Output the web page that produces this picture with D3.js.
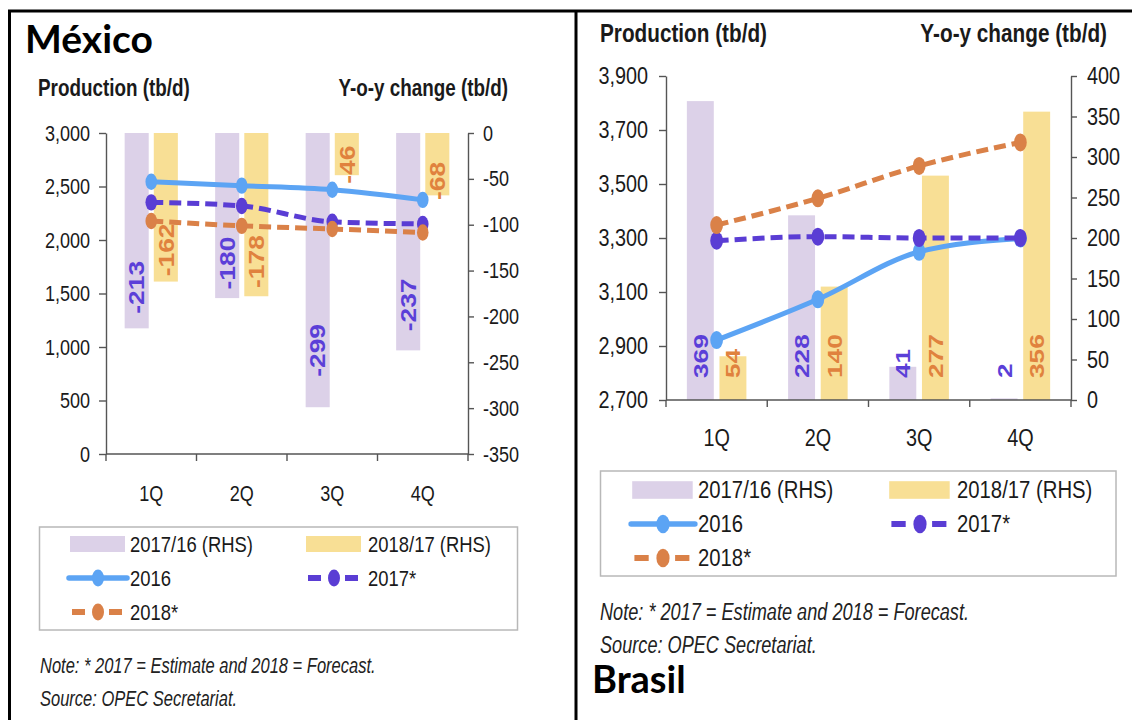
<!DOCTYPE html>
<html>
<head>
<meta charset="utf-8">
<script src="https://cdn.jsdelivr.net/npm/d3@7"></script>
<style>
  body { margin: 0; background: #fff; }
</style>
</head>
<body>
<script>
// Shared categories and legend labels
var quarters = ["1Q", "2Q", "3Q", "4Q"];
var legendLabels = ["2017/16 (RHS)", "2018/17 (RHS)", "2016", "2017*", "2018*"];

// México: y-o-y change (RHS, tb/d) and production (LHS, tb/d)
var mxChange1716 = [-213, -180, -299, -237];
var mxChange1817 = [-162, -178, -46, -68];
var mxProd2016 = [2545, 2508, 2470, 2375];
var mxProd2017 = [2352, 2318, 2170, 2150];
var mxProd2018 = [2178, 2132, 2103, 2070];
var mxLeftTicks = [0, 500, 1000, 1500, 2000, 2500, 3000];
var mxRightTicks = [0, -50, -100, -150, -200, -250, -300, -350];

// Brasil
var brChange1716 = [369, 228, 41, 2];
var brChange1817 = [54, 140, 277, 356];
var brProd2016 = [2922, 3073, 3249, 3298];
var brProd2017 = [3290, 3305, 3300, 3300];
var brProd2018 = [3348, 3447, 3567, 3654];
var brLeftTicks = [2700, 2900, 3100, 3300, 3500, 3700, 3900];
var brRightTicks = [0, 50, 100, 150, 200, 250, 300, 350, 400];

var noteText = "Note: * 2017 = Estimate and 2018 = Forecast.";
var sourceText = "Source: OPEC Secretariat.";

// colours
var purpleBar = "#dcd1e8", yellowBar = "#f8df95";
var c2016 = "#5ca4f4", c2017 = "#5a3dd4", c2018 = "#da8148";
var labPurple = "#5b3fd8", labOrange = "#e0823e";
var ink = "#1a1a1a";
var SQ = 0.82; // the original picture is horizontally squeezed
var FONT = "'Liberation Sans', Arial, sans-serif";

var svg = d3.select("body").append("svg")
    .attr("width", 1132)
    .attr("height", 720);

// outer frame
svg.append("path")
    .attr("d", "M8,11H1132M9.5,11V720M576,11V720")
    .attr("stroke", "#000")
    .attr("stroke-width", 3)
    .attr("fill", "none");

// narrow text helper
function ntext(g, x, y, str, o) {
    o = o || {};
    return g.append("text")
        .attr("transform", "translate(" + x + "," + y + ") scale(" + (o.sq || SQ) + ",1)")
        .attr("text-anchor", o.anchor || "start")
        .attr("dominant-baseline", "central")
        .style("font-family", FONT)
        .style("font-size", (o.size || 22) + "px")
        .style("font-weight", o.bold ? "bold" : "normal")
        .style("font-style", o.italic ? "italic" : "normal")
        .attr("fill", o.color || ink)
        .text(str);
}

function squeezeAxis(g, size) {
    g.attr("font-family", null).attr("font-size", null);
    g.select(".domain").attr("stroke", "#555").attr("stroke-width", 1.4);
    g.selectAll(".tick line").attr("stroke", "#555").attr("stroke-width", 1.4);
    g.selectAll(".tick text").each(function() {
        var t = d3.select(this);
        var xv = +t.attr("x") || 0;
        t.attr("x", xv / SQ)
            .attr("transform", "scale(" + SQ + ",1)")
            .attr("fill", ink)
            .style("font-family", FONT)
            .style("font-size", size + "px");
    });
}

function marker(g, x, y, color, rx, ry) {
    g.append("ellipse")
        .attr("cx", x).attr("cy", y)
        .attr("rx", rx).attr("ry", ry)
        .attr("fill", color);
}

function drawPanel(p) {
    var g = svg.append("g");
    var fs = p.fs;

    var x = d3.scaleBand().domain(quarters).range([p.x0, p.x1]);
    var yL = d3.scaleLinear().domain(p.leftDomain).range([p.yBot, p.yTop]);
    var yR = d3.scaleLinear().domain(p.rightDomain).range([p.yBot, p.yTop]);
    var bw = x.bandwidth();
    var barW = bw * 0.266, gap = bw * 0.028;
    var cx = function(i) { return x(quarters[i]) + bw / 2; };

    // bars (RHS)
    var barSeries = [
        {vals: p.chgA, fill: purpleBar, lab: labPurple, off: -gap - barW},
        {vals: p.chgB, fill: yellowBar, lab: labOrange, off: gap}
    ];
    barSeries.forEach(function(s) {
        g.selectAll(null).data(s.vals).enter().append("rect")
            .attr("x", function(d, i) { return cx(i) + s.off; })
            .attr("width", barW)
            .attr("y", function(d) { return Math.min(yR(d), yR(0)); })
            .attr("height", function(d) { return Math.abs(yR(d) - yR(0)); })
            .attr("fill", s.fill);
    });

    // axes
    var ga = g.append("g")
        .attr("transform", "translate(" + p.x0 + ",0)")
        .call(d3.axisLeft(yL).tickValues(p.leftTicks).tickSize(7).tickSizeOuter(0)
            .tickPadding(p.padL).tickFormat(d3.format(",")));
    squeezeAxis(ga, 22 * fs);

    var gb = g.append("g")
        .attr("transform", "translate(" + p.x1 + ",0)")
        .call(d3.axisRight(yR).tickValues(p.rightTicks).tickSize(6).tickSizeOuter(0)
            .tickPadding(p.padR).tickFormat(function(d) { return String(d); }));
    squeezeAxis(gb, 22 * fs);

    // x axis with ticks at band edges
    g.append("line")
        .attr("x1", p.x0).attr("x2", p.x1)
        .attr("y1", p.yBot).attr("y2", p.yBot)
        .attr("stroke", "#555").attr("stroke-width", 1.4);
    var edges = quarters.map(function(q) { return x(q); }).concat([p.x1]);
    g.selectAll(null).data(edges).enter().append("line")
        .attr("x1", function(d) { return d; }).attr("x2", function(d) { return d; })
        .attr("y1", p.yBot).attr("y2", p.yBot + 7)
        .attr("stroke", "#555").attr("stroke-width", 1.4);
    quarters.forEach(function(q, i) {
        ntext(g, cx(i), p.yBot + p.catDy, q, {anchor: "middle", size: 22 * fs});
    });

    // lines (LHS)
    var lineSeries = [
        {vals: p.prod2016, color: c2016, dash: null},
        {vals: p.prod2017, color: c2017, dash: "12,6"},
        {vals: p.prod2018, color: c2018, dash: "12,6"}
    ];
    var line = d3.line()
        .x(function(d, i) { return cx(i); })
        .y(function(d) { return yL(d); })
        .curve(d3.curveMonotoneX);
    lineSeries.forEach(function(s) {
        g.append("path")
            .datum(s.vals)
            .attr("d", line)
            .attr("fill", "none")
            .attr("stroke", s.color)
            .attr("stroke-width", 5)
            .attr("stroke-dasharray", s.dash);
        s.vals.forEach(function(v, i) {
            marker(g, cx(i), yL(v), s.color, 5.8 * fs, 8.2 * fs);
        });
    });

    // data labels, rotated
    barSeries.forEach(function(s) {
        s.vals.forEach(function(v, i) {
            var lx = cx(i) + s.off + barW / 2;
            var ly, anchor;
            if (p.labelMode === "hang") {
                ly = yR(0) + 0.8 * (yR(v) - yR(0)) - 2;
                anchor = "middle";
            } else {
                ly = yR(0) - 22;
                anchor = "start";
            }
            g.append("text")
                .attr("transform", "translate(" + lx + "," + ly + ") rotate(-90) scale(" + p.labStretch + ",1)")
                .attr("text-anchor", anchor)
                .attr("dominant-baseline", "central")
                .style("font-family", FONT)
                .style("font-weight", "bold")
                .style("font-size", p.labSize + "px")
                .attr("fill", s.lab)
                .text(String(v));
        });
    });

    // axis titles
    ntext(g, p.titleL, p.titleY, "Production (tb/d)", {bold: true, size: 23 * fs});
    ntext(g, p.titleR, p.titleY, "Y-o-y change (tb/d)", {bold: true, size: 23 * fs, anchor: "end"});

    // legend
    var L = p.legend;
    g.append("rect")
        .attr("x", L.box[0]).attr("y", L.box[1])
        .attr("width", L.box[2] - L.box[0]).attr("height", L.box[3] - L.box[1])
        .attr("fill", "none").attr("stroke", "#b8b8b8").attr("stroke-width", 1.5);
    var items = [
        {type: "bar", color: purpleBar, col: 0, row: 0},
        {type: "bar", color: yellowBar, col: 1, row: 0},
        {type: "solid", color: c2016, col: 0, row: 1},
        {type: "dash", color: c2017, col: 1, row: 1},
        {type: "dash", color: c2018, col: 0, row: 2}
    ];
    items.forEach(function(it, k) {
        var y = L.rows[it.row];
        var m = L.mark[it.col];
        if (it.type === "bar") {
            g.append("rect")
                .attr("x", m - 28 * fs).attr("y", y - 8 * fs)
                .attr("width", 55 * fs).attr("height", 16 * fs)
                .attr("fill", it.color);
        } else if (it.type === "solid") {
            g.append("line")
                .attr("x1", m - 29 * fs).attr("x2", m + 29 * fs)
                .attr("y1", y).attr("y2", y)
                .attr("stroke", it.color).attr("stroke-width", 5.5)
                .attr("stroke-linecap", "round");
            marker(g, m, y, it.color, 6 * fs, 8.5 * fs);
        } else {
            [[-26, -13], [11, 24]].forEach(function(seg) {
                g.append("line")
                    .attr("x1", m + seg[0] * fs).attr("x2", m + seg[1] * fs)
                    .attr("y1", y).attr("y2", y)
                    .attr("stroke", it.color).attr("stroke-width", 6);
            });
            marker(g, m, y, it.color, 6 * fs, 8.5 * fs);
        }
        ntext(g, L.text[it.col], y, legendLabels[k], {size: 22.5 * fs});
    });

    // notes
    ntext(g, p.noteX, p.noteY[0], noteText, {italic: true, size: 22 * fs, sq: 0.75, color: "#222"});
    ntext(g, p.noteX, p.noteY[1], sourceText, {italic: true, size: 22 * fs, sq: 0.75, color: "#222"});

    // country title
    g.append("text")
        .attr("x", p.country[1]).attr("y", p.country[2])
        .style("font-family", "Lato, 'Open Sans', sans-serif")
        .style("font-weight", "bold")
        .style("font-size", p.country[3] + "px")
        .attr("fill", "#000")
        .text(p.country[0]);
}

drawPanel({
    x0: 106, x1: 468, yTop: 133, yBot: 454,
    leftDomain: [0, 3000], rightDomain: [-350, 0],
    leftTicks: mxLeftTicks, rightTicks: mxRightTicks,
    chgA: mxChange1716, chgB: mxChange1817,
    prod2016: mxProd2016, prod2017: mxProd2017, prod2018: mxProd2018,
    fs: 1, padL: 9, padR: 9, catDy: 39,
    labelMode: "hang", labSize: 22, labStretch: 1.2,
    titleL: 38, titleR: 508, titleY: 88,
    legend: {box: [39.5, 527, 517.5, 630], rows: [544, 578, 612],
             mark: [98, 334], text: [130, 368]},
    noteX: 40, noteY: [665, 698],
    country: ["México", 25, 53, 39]
});

drawPanel({
    x0: 666, x1: 1071, yTop: 76, yBot: 400,
    leftDomain: [2700, 3900], rightDomain: [0, 400],
    leftTicks: brLeftTicks, rightTicks: brRightTicks,
    chgA: brChange1716, chgB: brChange1817,
    prod2016: brProd2016, prod2017: brProd2017, prod2018: brProd2018,
    fs: 1.1, padL: 11, padR: 10, catDy: 38,
    labelMode: "base", labSize: 21, labStretch: 1.25,
    titleL: 600, titleR: 1107, titleY: 33,
    legend: {box: [600.5, 471, 1116, 576], rows: [490, 524, 558],
             mark: [663, 920], text: [698, 957]},
    noteX: 600, noteY: [612, 645],
    country: ["Brasil", 592, 693, 38]
});
</script>
</body>
</html>
